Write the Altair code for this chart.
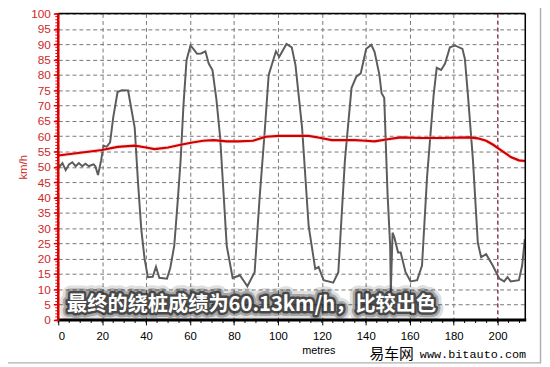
import altair as alt
import pandas as pd

# Speed trace (grey)
gray_x = [0, 0.45, 1.9, 3.4, 4.9, 6.4, 7.9, 9.4, 10.9, 12.4, 13.9, 15.2, 16.1, 16.9, 18.1, 19.5,
          20.6, 22, 23.6, 25, 27, 29, 31.8, 33, 34.8, 36.3, 37.8, 39.3, 40.8, 43, 44.5, 46,
          49.5, 51, 52.8, 54.3, 55.7, 57, 58.4, 60.2, 61.5, 63.2, 65, 67, 68.5, 70.2, 72,
          73.7, 75.2, 76.7, 79.4, 82.7, 86.1, 89.4, 91.6, 93.9, 95.8, 99.1, 100.6, 103.9,
          106.3, 108, 111, 114, 117, 118.5, 120.8, 125.2, 127.5, 130.5, 133.5, 135.7, 137.7,
          140.2, 142.5, 144, 146.2, 147.2, 148.4, 149.9, 151.1, 151.4, 152.2, 153, 154.7,
          155.9, 158.1, 160.4, 163.4, 165.6, 167.9, 170.9, 172.3, 174.3, 176.1, 178.3, 180.6,
          184, 185.1, 186.5, 188.8, 191, 192.5, 194.8, 197.8, 200.8, 203, 204.5, 206, 209.7,
          211.2, 212.4]
gray_v = [51, 49.9, 51.2, 48.9, 50.8, 51.5, 50.2, 51.2, 50.2, 51, 50.2, 50.6, 50.8, 50.2, 47.3, 52,
          56.9, 56.5, 58, 66, 74.4, 75, 74.9, 70, 62.8, 45, 29.6, 20, 14, 14.1, 17.4, 13.8,
          13.5, 17, 24.2, 38, 52, 70, 84.8, 89.6, 88.5, 86.9, 87, 87.7, 83.7, 81.6, 72,
          59.6, 42, 24.2, 13.7, 14.6, 11, 15.6, 39.2, 60.7, 80, 87.7, 85.9, 90.1,
          89, 83.2, 62.8, 30.6, 16.7, 17.3, 13, 12.2, 15.6, 52.1, 75.7, 79.4, 80.5,
          88.5, 89.8, 87.5, 80, 74, 72.5, 41.4, 24.2, 9.3, 28.5, 27, 22,
          22, 15.6, 12.6, 13, 17.8, 46.7, 73.5, 82.3, 81.6, 83.7, 89, 89.6,
          88.5, 85.3, 73.5, 52.1, 25.3, 20.5, 21.5, 17.8, 13.5, 12.6, 14, 12.6, 13,
          17.8, 26.4]

# Average speed (red)
red_x = [0, 10, 19.9, 27, 34.8, 40, 43.8, 50, 55.7, 61.7, 66, 70.7, 76.7, 82, 88.6, 94.6,
         100.6, 108, 114, 119, 124.5, 135, 140, 144, 150, 155.9, 164.9, 173.8, 187.3, 191,
         194.8, 198, 200.8, 203.5, 206, 209.7, 212.5]
red_v = [53.7, 54.6, 55.5, 56.5, 56.9, 56.3, 55.8, 56.3, 57.2, 58, 58.5, 58.7, 58.3, 58.3, 58.5, 59.8,
         60.1, 60.1, 60.1, 59.5, 58.7, 58.7, 58.5, 58.3, 59, 59.6, 59.4, 59.4, 59.6, 59.3,
         58.5, 57.2, 55.8, 54.5, 53.2, 52.1, 51.9]

y_ticks = list(range(0, 101, 5))
y_minor = list(range(0, 101, 1))
x_ticks = list(range(0, 201, 20))
x_minor = list(range(0, 213, 5))
marker_x = [200]

caption = "最终的绕桩成绩为60.13km/h，比较出色"
watermark_cn = "易车网"
watermark_url = "www.bitauto.com"

XMAX = 212.6
xs = alt.Scale(domain=[0, XMAX], nice=False, zero=False)
ys = alt.Scale(domain=[0, 100], nice=False)

gray_df = pd.DataFrame({"m": gray_x, "v": gray_v})
red_df = pd.DataFrame({"m": red_x, "v": red_v})

FONT = "Liberation Sans"

XA = alt.Axis(values=x_ticks, grid=True, gridDash=[4, 3], gridColor="#777777",
              gridWidth=1, domain=False, ticks=True, tickColor="#000000",
              tickSize=5, labelColor="#000000", labelFont=FONT, labelFontSize=11.5,
              labelPadding=6, labelOverlap=False, title="metres", titleFont=FONT,
              titleFontSize=11, titleFontWeight="normal", titleColor="#000000",
              titlePadding=2, titleX=264, titleAlign="center")
YA = alt.Axis(values=y_ticks, grid=True, gridDash=[4, 3], gridColor="#777777",
              gridWidth=1, domain=False, ticks=True, tickColor="#dd0000",
              tickSize=5, tickWidth=1.5, labelColor="#cc2a2a", labelFont=FONT,
              labelFontSize=12, labelPadding=3, labelOverlap=False, title="km/h",
              titleFont=FONT, titleFontSize=11.5, titleFontWeight="normal",
              titleColor="#cc2a2a", titlePadding=2)


def X():
    return alt.X("m:Q", scale=xs, axis=XA, title="metres")


def Y():
    return alt.Y("v:Q", scale=ys, axis=YA, title="km/h")


gray_line = alt.Chart(gray_df).mark_line(color="#5c5c5c", strokeWidth=2).encode(x=X(), y=Y())

red_glow = alt.Chart(red_df).mark_line(color="#ffaaaa", strokeWidth=4, opacity=0.4).encode(
    x=X(), y=Y())
red_line = alt.Chart(red_df).mark_line(color="#d00000", strokeWidth=2.2).encode(x=X(), y=Y())

marker = alt.Chart(pd.DataFrame({"m": marker_x})).mark_rule(
    color="#a03050", strokeDash=[4, 3], strokeWidth=1).encode(x=X())

# minor ticks on axes
ymin_df = pd.DataFrame({"v": y_minor})
y_minor_ticks = alt.Chart(ymin_df).mark_rule(color="#dd0000", strokeWidth=1).encode(
    y=Y(), x=alt.value(-3), x2=alt.value(0))
xmin_df = pd.DataFrame({"m": x_minor})
x_minor_ticks = alt.Chart(xmin_df).mark_rule(color="#000000", strokeWidth=1).encode(
    x=X(), y=alt.value(311), y2=alt.value(314))

# frame lines
top_border = alt.Chart().mark_rule(color="#000000", strokeWidth=1.5).encode(
    x=alt.value(0), x2=alt.value(474), y=alt.value(0))
right_border = alt.Chart().mark_rule(color="#000000", strokeWidth=1.5).encode(
    x=alt.value(474), y=alt.value(0), y2=alt.value(311))
bottom_border = alt.Chart().mark_rule(color="#000000", strokeWidth=3).encode(
    x=alt.value(0), x2=alt.value(475), y=alt.value(311))
left_axis = alt.Chart().mark_rule(color="#dd0000", strokeWidth=2.5).encode(
    x=alt.value(0), y=alt.value(0), y2=alt.value(312))

outer_right = alt.Chart().mark_rule(color="#b0b0b0", strokeWidth=1.5).encode(
    x=alt.value(489.5), y=alt.value(-11), y2=alt.value(355))
outer_bottom = alt.Chart().mark_rule(color="#b0b0b0", strokeWidth=1.5).encode(
    x=alt.value(-59), x2=alt.value(490), y=alt.value(354.5))

cap_df = pd.DataFrame({"t": [caption]})
cap_kw = dict(align="left", baseline="middle", font="Noto Sans CJK SC", fontSize=20.5,
              fontWeight="bold")
cap_shadow0 = alt.Chart(cap_df).mark_text(color="#000000", stroke="#000000", strokeWidth=16,
                                          opacity=0.12, strokeJoin="round", **cap_kw).encode(
    text="t:N", x=alt.value(9), y=alt.value(296))
cap_shadow1 = alt.Chart(cap_df).mark_text(color="#000000", stroke="#000000", strokeWidth=10,
                                          opacity=0.25, strokeJoin="round", **cap_kw).encode(
    text="t:N", x=alt.value(9), y=alt.value(296))
cap_shadow2 = alt.Chart(cap_df).mark_text(color="#111111", stroke="#222222", strokeWidth=5,
                                          opacity=0.7, strokeJoin="round", **cap_kw).encode(
    text="t:N", x=alt.value(9), y=alt.value(296))
cap_text = alt.Chart(cap_df).mark_text(color="#ffffff", **cap_kw).encode(
    text="t:N", x=alt.value(9), y=alt.value(296))

wm_cn = alt.Chart(pd.DataFrame({"t": [watermark_cn]})).mark_text(
    align="left", baseline="alphabetic", font="Noto Sans CJK SC", fontSize=15,
    color="#000000").encode(text="t:N", x=alt.value(316), y=alt.value(351))
wm_url = alt.Chart(pd.DataFrame({"t": [watermark_url]})).mark_text(
    align="left", baseline="alphabetic", font="Liberation Mono", fontSize=12,
    color="#000000").encode(text="t:N", x=alt.value(367), y=alt.value(350))

chart = alt.layer(
    gray_line, marker, red_glow, red_line, y_minor_ticks, x_minor_ticks,
    top_border, right_border, bottom_border, left_axis,
    cap_shadow0, cap_shadow1, cap_shadow2, cap_text, wm_cn, wm_url, outer_right, outer_bottom,
).properties(
    width=474, height=311,
    autosize=alt.AutoSizeParams(type="none"),
    padding={"left": 51, "top": 3, "right": 17, "bottom": 45},
).configure_view(stroke=None).configure(background="#ffffff")

chart.save("out.html", embed_options={"renderer": "svg", "actions": False})
